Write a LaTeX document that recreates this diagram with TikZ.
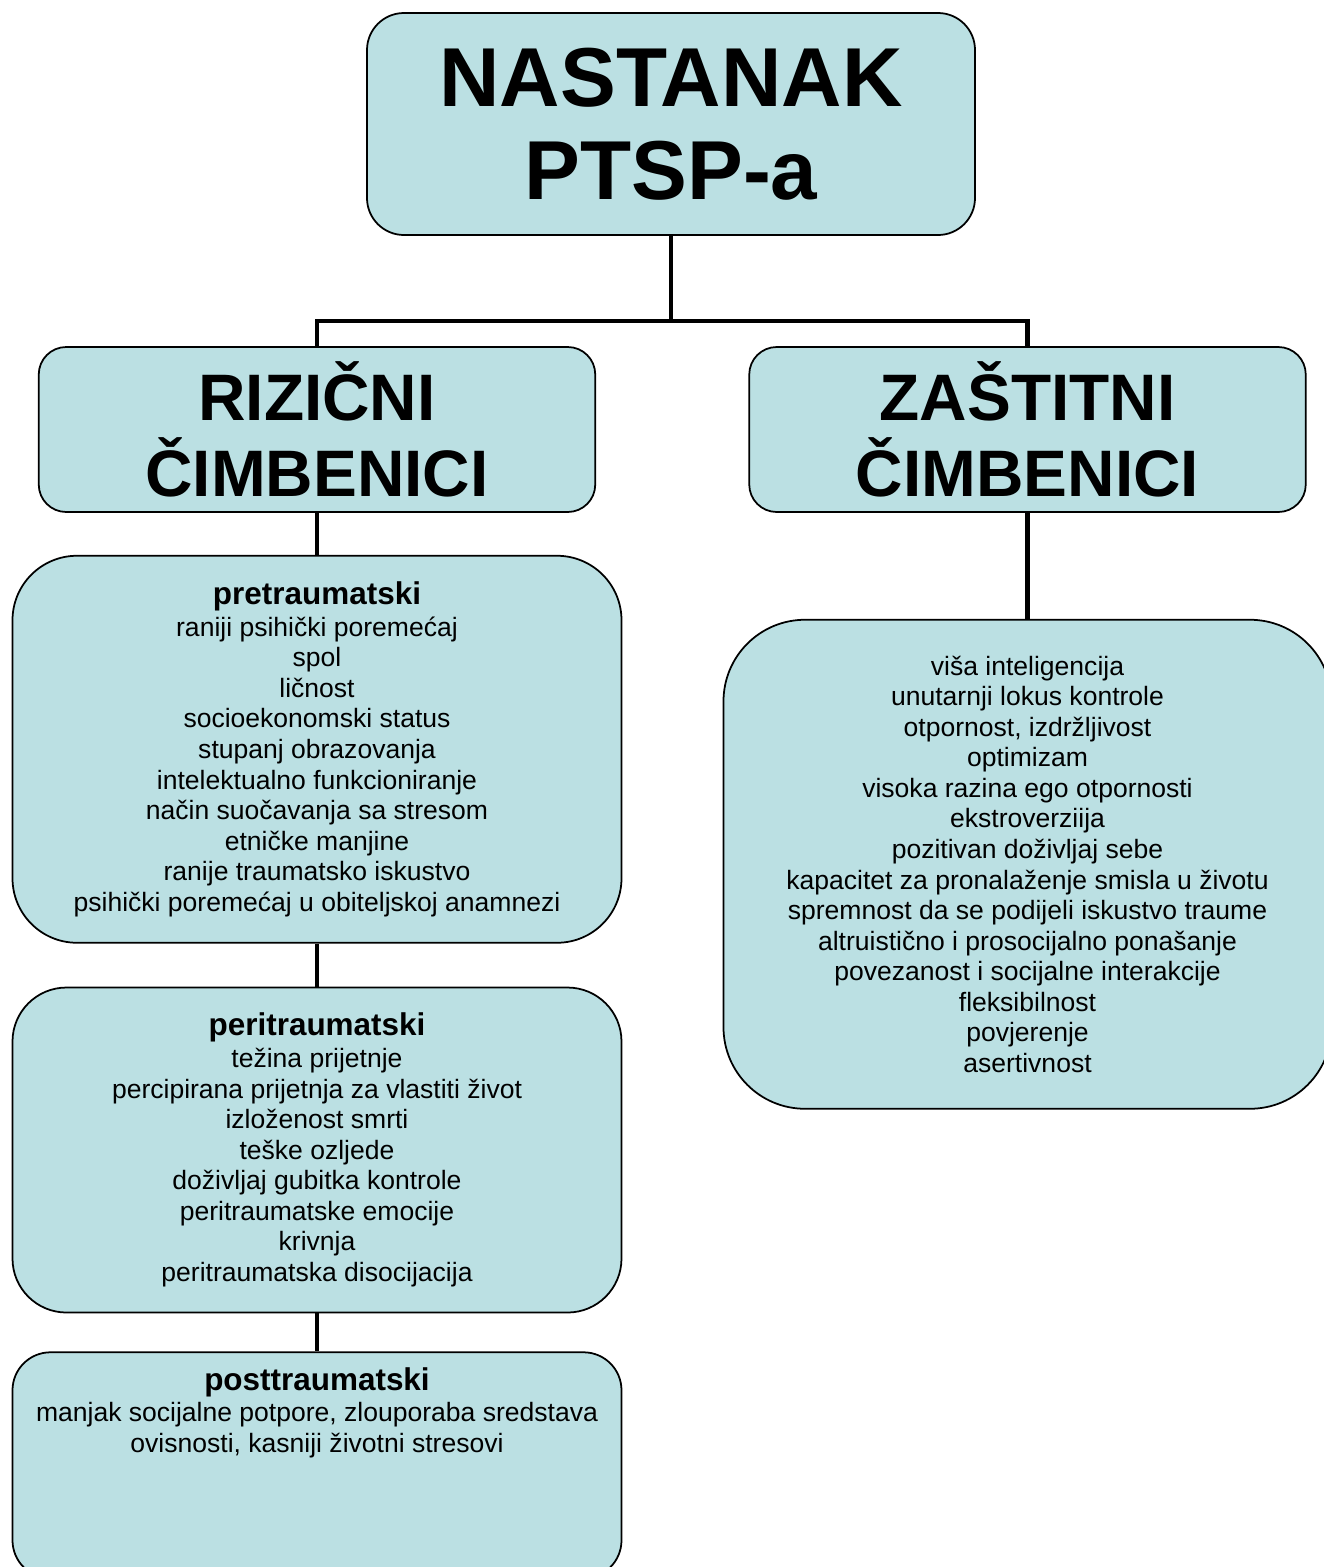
\documentclass[tikz,border=0pt]{standalone}
\usepackage{fontspec}
\setmainfont{Liberation Sans}
\usetikzlibrary{positioning}

\definecolor{boxfill}{RGB}{187,224,227}
\newcommand{\grouphead}[1]{{\fontsize{17.9}{20}\selectfont\bfseries #1}}

\begin{document}
\begin{tikzpicture}[node distance=0.86cm, semithick,
    box/.style={draw, line width=1pt, fill=boxfill, inner sep=0pt, align=center,
                font=\fontsize{15.1}{17.4}\selectfont},
    titlebox/.style={box, rounded corners=0.55cm, minimum width=11.13cm, minimum height=3.3cm,
                font=\fontsize{37.4}{43}\selectfont\bfseries},
    conn/.style={line width=2.8pt}]
    \useasboundingbox (0,0) rectangle (26.48,-31.34);
    \clip (0,0) rectangle (26.48,-31.34);

    \node[box, rounded corners=0.74cm, minimum width=12.16cm, minimum height=4.44cm,
          font=\fontsize{47.6}{53}\selectfont\bfseries]   (nast) at (13.42,-2.48)  {NASTANAK\\PTSP-a};
    \node[titlebox]                  (riz)  at (6.34,-8.59)                    {RIZIČNI\\ČIMBENICI};
    \node[titlebox]                  (zas)  at (20.55,-8.59)                   {ZAŠTITNI\\ČIMBENICI};
    \coordinate                      (bus)  at (13.42,-6.42);

    % rizicni cimbenici
    \node[box, rounded corners=1.29cm, minimum width=12.18cm, minimum height=7.74cm]
          (pre)  [below=0.84cm of riz]
                                  {\grouphead{pretraumatski}\\[0.6pt]
                                   raniji psihički poremećaj\\ spol\\ ličnost\\
                                   socioekonomski status\\ stupanj obrazovanja\\
                                   intelektualno funkcioniranje\\ način suočavanja sa stresom\\
                                   etničke manjine\\ ranije traumatsko iskustvo\\
                                   psihički poremećaj u obiteljskoj anamnezi};
    \node[box, rounded corners=1.08cm, minimum width=12.18cm, minimum height=6.5cm]
          (peri) [below=of pre]   {\grouphead{peritraumatski}\\[0.6pt]
                                   težina prijetnje\\ percipirana prijetnja za vlastiti život\\
                                   izloženost smrti\\ teške ozljede\\ doživljaj gubitka kontrole\\
                                   peritraumatske emocije\\ krivnja\\ peritraumatska disocijacija};
    \node[box, rounded corners=0.76cm, minimum width=12.18cm, minimum height=4.52cm]
          (post) [below=0.76cm of peri]
          {\parbox[c][4.52cm][t]{12cm}{\centering\vspace*{0.3cm}
                                   \grouphead{posttraumatski}\\[0.6pt]
                                   manjak socijalne potpore, zlouporaba sredstava\\
                                   ovisnosti, kasniji životni stresovi}};

    % zastitni cimbenici
    \node[box, rounded corners=1.63cm, minimum width=12.16cm, minimum height=9.78cm]
          (zasl) [below=2.12cm of zas]
                                  {viša inteligencija\\ unutarnji lokus kontrole\\
                                   otpornost, izdržljivost\\ optimizam\\
                                   visoka razina ego otpornosti\\ ekstroverziija\\
                                   pozitivan doživljaj sebe\\ kapacitet za pronalaženje smisla u životu\\
                                   spremnost da se podijeli iskustvo traume\\
                                   altruistično i prosocijalno ponašanje\\
                                   povezanost i socijalne interakcije\\ fleksibilnost\\
                                   povjerenje\\ asertivnost};

    \draw[conn] (nast.south) -- (bus);
    \draw[conn] (riz.north) |- (bus) -| (zas.north);
    \draw[conn] (riz.south) -- (pre.north);
    \draw[conn] (pre.south) -- (peri.north);
    \draw[conn] (peri.south) -- (post.north);
    \draw[conn] (zas.south) -- (zasl.north);
\end{tikzpicture}
\end{document}
